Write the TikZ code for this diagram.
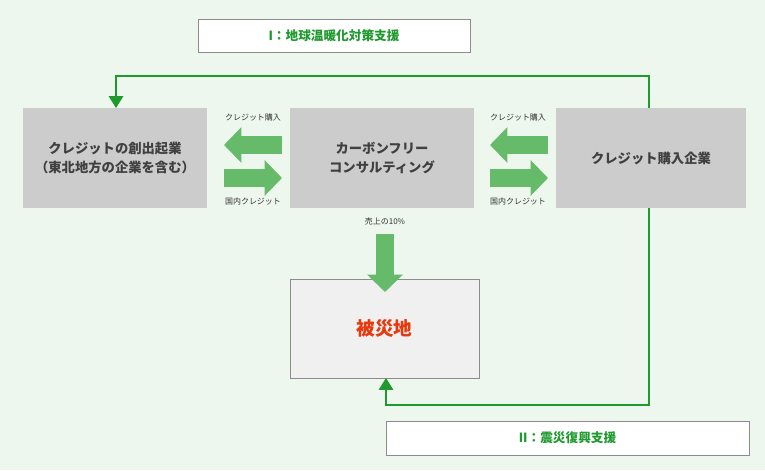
\documentclass[tikz,border=0pt]{standalone}
\usepackage{fontspec}
\newfontfamily\jp{Noto Sans CJK JP}
\usetikzlibrary{arrows.meta,positioning}
\definecolor{bgc}{HTML}{EEF7EE}
\definecolor{boxc}{HTML}{CCCCCC}
\definecolor{arrc}{HTML}{66BB6A}
\definecolor{linec}{HTML}{1E9A2E}
\definecolor{redc}{HTML}{E8380D}
\begin{document}
\begin{tikzpicture}[x=0.0264cm,y=-0.0264cm,
	box/.style={fill=boxc,font=\jp\fontsize{10}{14}\selectfont\bfseries,text=black!75,align=center,inner sep=0pt},
	lbl/.style={draw=black!45,fill=white,inner sep=0pt,font=\jp\fontsize{9.5}{12}\selectfont\bfseries,text=linec},
	small/.style={font=\jp\fontsize{6}{8}\selectfont,text=black!80},
	blk/.style={arrc,line width=14,-{Triangle[width=26,length=13]}},
	flow/.style={linec,line width=0.8,-{Triangle[width=11,length=9]}}]
	\tikzset{>=latex}
	\fill[bgc] (0,0) rectangle (765,470);
	\useasboundingbox (0,0) rectangle (765,470);
	% boxes
	\node[box,minimum width=184*0.0264cm,minimum height=100*0.0264cm] (cre) at (115,158) {クレジットの創出起業\\（東北地方の企業を含む）};
	\node[box,minimum width=184*0.0264cm,minimum height=100*0.0264cm] (cf) at (382,158) {カーボンフリー\\コンサルティング};
	\node[box,minimum width=190*0.0264cm,minimum height=100*0.0264cm] (buy) at (651,158) {クレジット購入企業};
	\node[draw=black!45,fill=black!6,minimum width=189*0.0264cm,minimum height=99*0.0264cm,font=\jp\fontsize{14}{16}\selectfont\bfseries,text=redc] (hs) at (384.5,328.5) {被災地};
	\node[lbl,minimum width=272*0.0264cm,minimum height=33*0.0264cm] (t1) at (334,35.5) {I：地球温暖化対策支援};
	\node[lbl,minimum width=363*0.0264cm,minimum height=34*0.0264cm] (t2) at (567.5,438) {II：震災復興支援};
	% block arrows
	\coordinate (a1) at (282,145); \coordinate (a2) at (224,145);
	\coordinate (a3) at (224,178); \coordinate (a4) at (282,178);
	\coordinate (b1) at (548,145); \coordinate (b2) at (490,145);
	\coordinate (b3) at (490,178); \coordinate (b4) at (548,178);
	\coordinate (c1) at (385,234); \coordinate (c2) at (385,292);
	\draw[blk] (a1) -- (a2);
	\draw[blk] (a3) -- (a4);
	\draw[blk] (b1) -- (b2);
	\draw[blk] (b3) -- (b4);
	\draw[blk] (c1) -- (c2);
	\node[small] (l1) at (253,117) {クレジット購入};
	\node[small] (l2) at (253,201) {国内クレジット};
	\node[small] (l3) at (518,117) {クレジット購入};
	\node[small] (l4) at (518,201) {国内クレジット};
	\node[small] (l5) at (385,221) {売上の10\%};
	% green lines
	\coordinate (p1) at (649,108); \coordinate (p2) at (649,76);
	\coordinate (p3) at (116,76); \coordinate (p4) at (116,108);
	\coordinate (q1) at (649,208); \coordinate (q2) at (649,405);
	\coordinate (q3) at (386,405); \coordinate (q4) at (386,378);
	\draw[flow] (p1) -- (p2) -- (p3) -- (p4);
	\draw[flow] (q1) -- (q2) -- (q3) -- (q4);
\end{tikzpicture}
\end{document}
